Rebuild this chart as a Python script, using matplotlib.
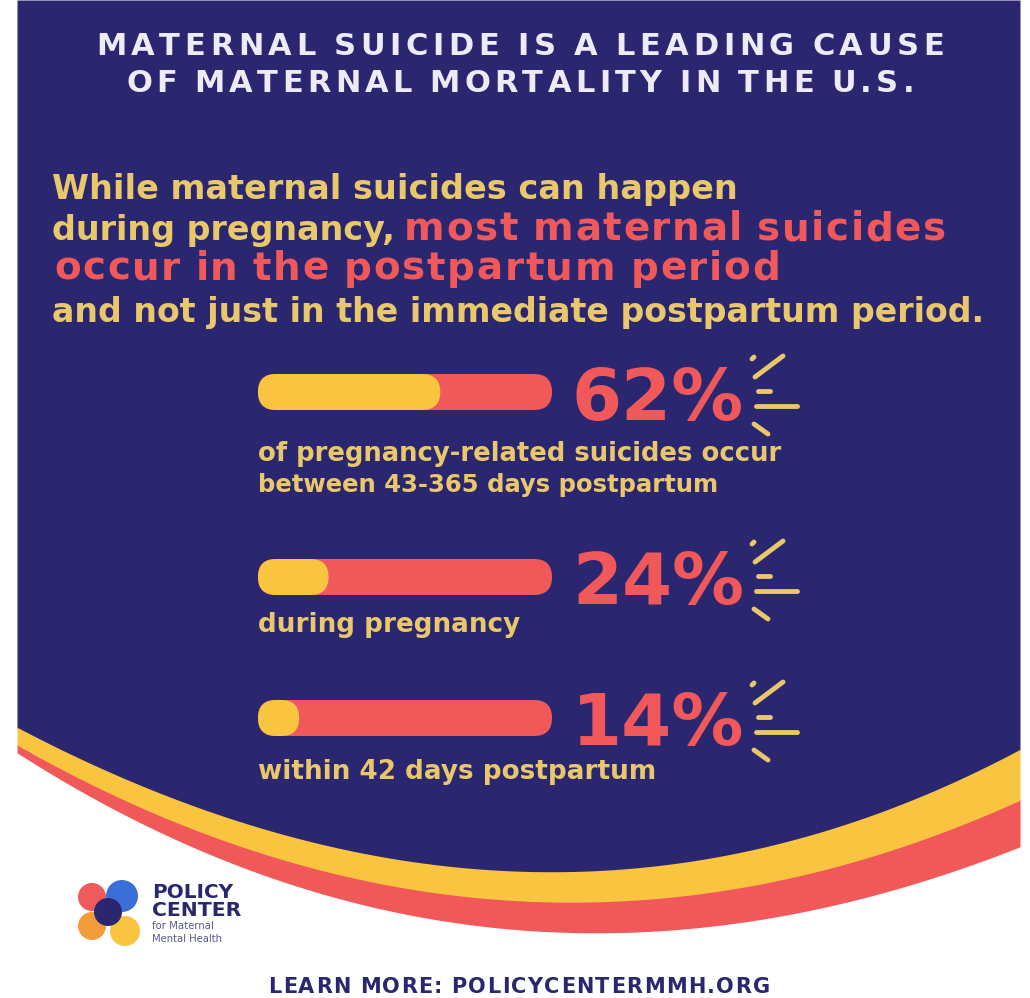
import matplotlib
matplotlib.use("Agg")
import numpy as np
import matplotlib.pyplot as plt
from matplotlib.patches import FancyBboxPatch, Circle
from matplotlib.font_manager import FontProperties

# data
shares = [62, 24, 14]
share_labels = ["62%", "24%", "14%"]
descriptions = [
    ["of pregnancy-related suicides occur", "between 43-365 days postpartum"],
    ["during pregnancy"],
    ["within 42 days postpartum"],
]
title_lines = ["MATERNAL SUICIDE IS A LEADING CAUSE", "OF MATERNAL MORTALITY IN THE U.S."]
footer = "LEARN MORE: POLICYCENTERMMH.ORG"

NAVY = "#2a2770"
YELLOW = "#f9c540"
RED = "#f1585a"
TXT_Y = "#e9c86c"
TXT_W = "#ecebf7"
FONT = "DejaVu Sans"

fig = plt.figure(figsize=(10.3, 9.98), dpi=100)
ax = fig.add_axes([0, 0, 1, 1])
ax.set_xlim(0, 1030)
ax.set_ylim(998, 0)
ax.axis("off")
r = fig.canvas.get_renderer()


def fit_text(s, x0, x1, y, color, weight="bold", **kw):
    t = ax.text(x0, y, s, fontsize=20, color=color, ha="left", va="baseline",
                family=FONT, weight=weight, **kw)
    w = t.get_window_extent(renderer=r).width
    t.set_fontsize(20 * (x1 - x0) / w)
    return t


def spaced_text(s, x0, x1, y, size, color):
    fp = FontProperties(family=FONT, weight="bold", size=size)
    widths = []
    for c in s:
        if c == " ":
            widths.append(size * 0.3 * 100 / 72)
        else:
            widths.append(r.get_text_width_height_descent(c, fp, ismath=False)[0])
    gap = (x1 - x0 - sum(widths)) / (len(s) - 1)
    x = x0
    for c, w in zip(s, widths):
        ax.text(x, y, c, fontproperties=fp, color=color, ha="left", va="baseline")
        x += w + gap


# background wave shape
wave_x = [17, 300, 350, 550, 750, 1020]
navy_edge = [728, 840, 853, 870, 853, 750]
yellow_edge = [745, 863, 880, 900, 887, 800]
red_edge = [753, 885, 903, 933, 920, 847]
xs = np.linspace(17, 1020, 400)
yn = np.polyval(np.polyfit(wave_x, navy_edge, 3), xs)
yy = np.polyval(np.polyfit(wave_x, yellow_edge, 3), xs)
yr = np.polyval(np.polyfit(wave_x, red_edge, 3), xs)
ax.fill_between(xs, 0, yn, color=NAVY, lw=0)
ax.fill_between(xs, yy - 1, yr, color=RED, lw=0)
ax.fill_between(xs, yn - 1, yy, color=YELLOW, lw=0)

# heading
spaced_text(title_lines[0], 96, 944, 55, 22, TXT_W)
spaced_text(title_lines[1], 126, 914, 92, 22, TXT_W)

# intro
fit_text("While maternal suicides can happen", 52, 738, 199, TXT_Y)
fit_text("during pregnancy,", 52, 396, 240, TXT_Y)
spaced_text("most maternal suicides", 404, 946, 240, 28, RED)
spaced_text("occur in the postpartum period", 54, 780, 280, 28, RED)
fit_text("and not just in the immediate postpartum period.", 52, 985, 322, TXT_Y)

# bars
bar_x0, bar_x1, bar_h = 258, 552, 36
bar_y = [392, 577, 718]
pct_base = [420, 604, 745]
desc_base = [[461, 492], [632], [779]]
desc_right = [[782, 718], [520], [655]]
# burst strokes, offsets from the point right of the percent label
burst = [(17, -35, 19, -37), (20, -17, 48, -38), (23, -3, 35, -3),
         (21, 12, 62, 12), (19, 30, 33, 40)]
for i, v in enumerate(shares):
    yc = bar_y[i]
    w = bar_x1 - bar_x0
    ax.add_patch(FancyBboxPatch((bar_x0, yc - bar_h / 2), w, bar_h,
                                boxstyle=f"round,pad=0,rounding_size={bar_h/2}",
                                fc=RED, ec="none"))
    ax.add_patch(FancyBboxPatch((bar_x0, yc - bar_h / 2), w * v / 100, bar_h,
                                boxstyle=f"round,pad=0,rounding_size={bar_h/2}",
                                fc=YELLOW, ec="none"))
    fit_text(share_labels[i], 572, 744, pct_base[i], RED)
    cx, cy = 735, yc + 2
    for dx0, dy0, dx1, dy1 in burst:
        ax.plot([cx + dx0, cx + dx1], [cy + dy0, cy + dy1],
                color=TXT_Y, lw=3.5, solid_capstyle="round")
    for line, yb, xr in zip(descriptions[i], desc_base[i], desc_right[i]):
        fit_text(line, 258, xr, yb, TXT_Y)

# logo
for (x, y, rad, c) in [(92, 897, 14, "#ef5a5a"), (122, 896, 16, "#3b6fd8"),
                       (92, 926, 14, "#f49b3a"), (125, 931, 15, "#f9c540"),
                       (108, 912, 14, NAVY)]:
    ax.add_patch(Circle((x, y), rad, fc=c, ec="none"))
fit_text("POLICY", 152, 233, 898, NAVY)
fit_text("CENTER", 152, 241, 916, NAVY)
fit_text("for Maternal", 152, 214, 929, "#5a5a8a", weight="normal")
fit_text("Mental Health", 152, 222, 942, "#5a5a8a", weight="normal")

# footer
spaced_text(footer, 268, 770, 993, 15, NAVY)

fig.savefig("out.png", dpi=100)
